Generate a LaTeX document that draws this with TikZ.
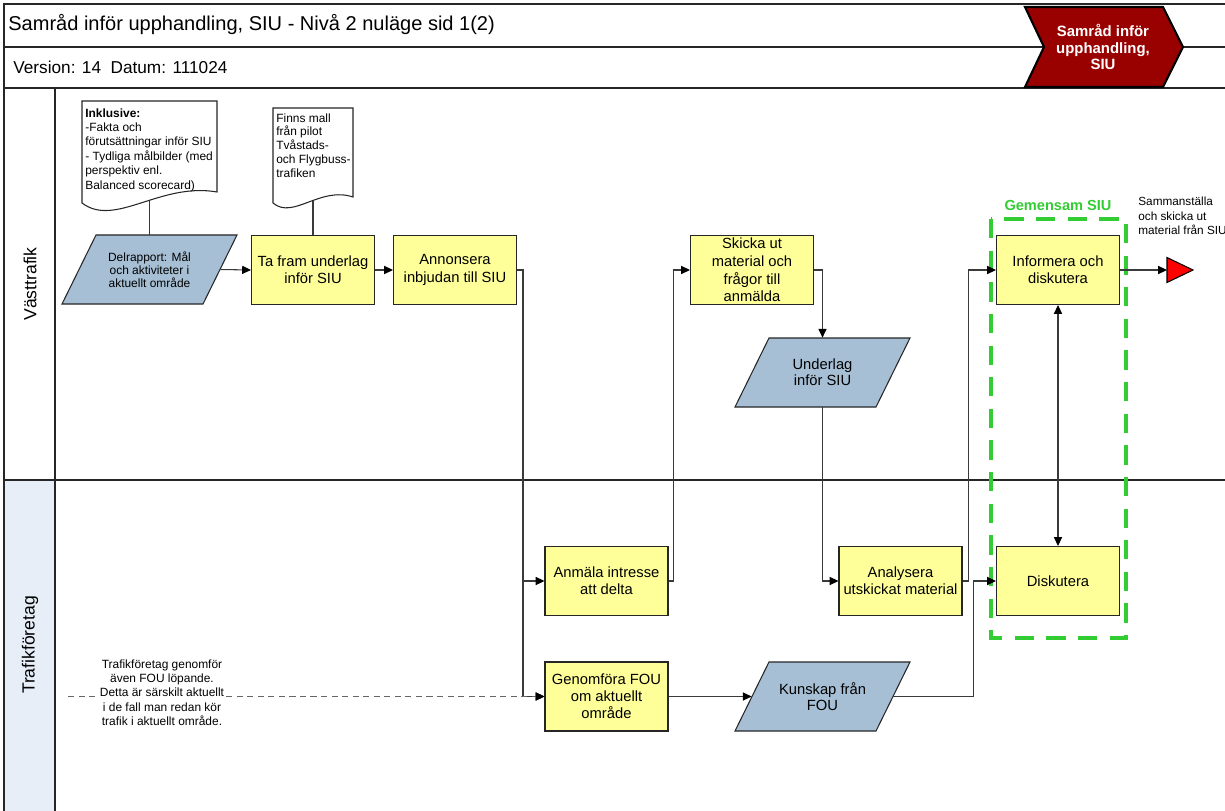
\documentclass[tikz,border=0pt]{standalone}
\usepackage{fontspec}
\setmainfont{Liberation Sans}
\usetikzlibrary{arrows.meta,calc}
\definecolor{boxyellow}{HTML}{FFFF99}
\definecolor{parablue}{HTML}{A6BFD5}
\definecolor{siugreen}{HTML}{33CC33}
\definecolor{chevred}{HTML}{990000}
\definecolor{lanefill}{HTML}{E8EEF8}
\definecolor{linegray}{HTML}{3A3A3A}
\newcommand\paraShape[2]{%
  \filldraw[parashape] ({#1-87.5},{#2+34.5}) -- ({#1+53.5},{#2+34.5}) -- ({#1+87.5},{#2-34.5}) -- ({#1-53.5},{#2-34.5}) -- cycle;}
\tikzset{
  frameline/.style={draw=black!85, line width=0.8pt},
  procbox/.style={draw=black!85, fill=boxyellow, line width=0.6pt, minimum width=2.46cm, minimum height=1.38cm, inner sep=1pt, align=center, font=\fontsize{8.4}{9.8}\selectfont},
  paratext/.style={minimum width=2.82cm, minimum height=1.38cm, inner sep=1pt, align=center},
  parashape/.style={draw=black!85, fill=parablue, line width=0.6pt},
  tipend/.style={-{Triangle[length=5pt,width=4.6pt,color=black]}},
  conn/.style={draw=linegray, line width=0.6pt, tipend},
  plainconn/.style={draw=linegray, line width=0.6pt},
  docshape/.style={draw=black!85, fill=white, line width=0.6pt},
  smalltext/.style={font=\fontsize{6.8}{8.2}\selectfont, align=left, inner sep=0pt},
  notetext/.style={font=\fontsize{6.8}{8.1}\selectfont, align=center, inner sep=0.5pt},
  lanelabel/.style={rotate=90, font=\fontsize{10}{12}\selectfont},
}
\begin{document}
\begin{tikzpicture}[x=0.02cm, y=-0.02cm]
\useasboundingbox (0,0) rectangle (1225,811);
% frame
\fill[lanefill] (4,480) rectangle (55,811);
\draw[frameline] (1225,4) -- (4,4) -- (4,811);
\draw[frameline] (4,47) -- (1225,47);
\draw[frameline] (4,88) -- (1225,88);
\draw[frameline] (4,480) -- (1225,480);
\draw[frameline] (55,88) -- (55,811);
\node[anchor=west, font=\fontsize{11.4}{13}\selectfont, inner sep=0pt] (title) at (8,25) {Samråd inför upphandling, SIU - Nivå 2 nuläge sid 1(2)};
\node[anchor=west, font=\fontsize{9.8}{11}\selectfont, inner sep=0pt] (version) at (13,67) {Version: 14\ \ Datum: 111024};
% chevron
\filldraw[fill=chevred, draw=black, line width=1.2pt] (1025,7) -- (1163,7) -- (1183,47) -- (1163,87) -- (1025,87) -- (1044,47) -- cycle;
\node[font=\bfseries\fontsize{8.5}{9.6}\selectfont, text=white, align=center] (chev) at (1103,47) {Samråd inför\\upphandling,\\SIU};
% lane labels
\node[lanelabel] (lane1) at (30,284) {Västtrafik};
\node[lanelabel] (lane2) at (30,645) {Trafikföretag};
% green group
\draw[siugreen, line width=2.2pt, dash pattern=on 11pt off 7pt] (991,219) rectangle (1126,638);
\node[font=\bfseries\fontsize{8.3}{10}\selectfont, text=siugreen] (gem) at (1058,205) {Gemensam SIU};
% parallelograms
\paraShape{149.5}{269.5}
\node[paratext, font=\fontsize{6.8}{7.4}\selectfont] (delrap) at (149.5,269.5) {Delrapport: Mål\\och aktiviteter i\\aktuellt område};
\paraShape{822.5}{372.5}
\node[paratext, font=\fontsize{8.4}{9.3}\selectfont] (underlag) at (822.5,372.5) {Underlag\\inför SIU};
\paraShape{822.5}{696.5}
\node[paratext, font=\fontsize{8.4}{9.3}\selectfont] (kunskap) at (822.5,696.5) {Kunskap från\\FOU};
% process boxes
\node[procbox] (tafram) at (313,270) {Ta fram underlag\\inför SIU};
\node[procbox] (annons) at (455,270) {Annonsera\\inbjudan till SIU};
\node[procbox, font=\fontsize{8.4}{10}\selectfont] (skicka) at (752,270) {Skicka ut\\material och\\frågor till\\anmälda};
\node[procbox] (inform) at (1058,270) {Informera och\\diskutera};
\node[procbox] (anmala) at (606.5,581) {Anmäla intresse\\att delta};
\node[procbox] (analys) at (900.5,581) {Analysera\\utskickat material};
\node[procbox] (diskut) at (1058,581) {Diskutera};
\node[procbox] (genom) at (606.5,696.5) {Genomföra FOU\\om aktuellt\\område};
% end triangle
\filldraw[fill=red, draw=black, line width=0.6pt] (1167,257.5) -- (1193,270) -- (1167,282.5) -- cycle;
\coordinate (endtri) at (1167,270);
% doc connectors (drawn before documents)
\coordinate (d1b) at (149.5,195);
\coordinate (d2b) at (313,190);
\draw[plainconn] (d1b) -- (delrap.north);
\draw[plainconn] (d2b) -- (tafram.north);
% documents
\draw[docshape] (82,203) -- (82,101) -- (217,101) -- (217,192) .. controls (160,182) and (115,228) .. (82,203) -- cycle;
\node[anchor=north west, smalltext] (doc1) at (85,108) {\textbf{Inklusive:}\\-Fakta och\\förutsättningar inför SIU\\- Tydliga målbilder (med\\perspektiv enl.\\Balanced scorecard)};
\draw[docshape] (273,203) -- (273,108) -- (353,108) -- (353,197) .. controls (320,186) and (293,220) .. (273,203) -- cycle;
\node[anchor=north west, smalltext, font=\fontsize{6.8}{7.9}\selectfont] (doc2) at (276,113) {Finns mall\\från pilot\\Tvåstads-\\och Flygbuss-\\trafiken};
% connectors
\draw[conn] (delrap.east) -- (tafram.west);
\draw[conn] (tafram.east) -- (annons.west);
\draw[conn] (annons.east) -- ++(6,0) |- (anmala.west);
\draw[conn] (annons.east) -- ++(6,0) |- (genom.west);
\draw[conn] (anmala.east) -- ++(5,0) |- (skicka.west);
\draw[conn] (skicka.east) -| (underlag.north);
\draw[conn] (underlag.south) |- (analys.west);
\draw[conn] (analys.east) -- ++(6,0) |- (inform.west);
\draw[conn] (genom.east) -- (kunskap.west);
\draw[conn] (kunskap.east) -- ++(80,0) |- (diskut.west);
\draw[plainconn, {Triangle[length=5pt,width=4.6pt,color=black]}-{Triangle[length=5pt,width=4.6pt,color=black]}] (inform.south) -- (diskut.north);
\draw[conn] (inform.east) -- (endtri);
% dashed FOU input
\coordinate (fouin) at (68,696.5);
\draw[conn, dash pattern=on 3.5pt off 2.5pt, draw=black!60] (fouin) -- (genom.west);
\node[notetext, fill=white] (note) at (162,692.5) {Trafikföretag genomför\\även FOU löpande.\\Detta är särskilt aktuellt\\i de fall man redan kör\\trafik i aktuellt område.};
% side text
\node[anchor=north west, smalltext, font=\fontsize{6.7}{8.2}\selectfont] (samman) at (1138,197) {Sammanställa\\och skicka ut\\material från SIU};
\end{tikzpicture}
\end{document}
